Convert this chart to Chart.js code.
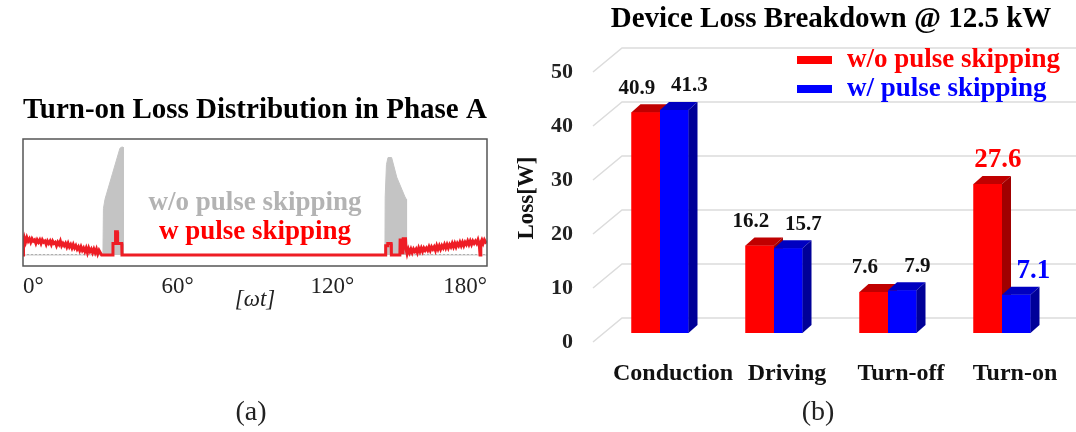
<!DOCTYPE html>
<html>
<head>
<meta charset="utf-8">
<script src="https://cdn.jsdelivr.net/npm/chart.js@4.4.0/dist/chart.umd.min.js"></script>
<style>
  body { margin:0; background:#fff; }
  #marco { position:relative; width:1076px; height:432px; overflow:hidden; font-family:"Liberation Serif", "Times New Roman", serif; }
  canvas { position:absolute; top:0; }
  #graficaA { left:0; }
  #graficaB { left:500px; }
  .pie { position:absolute; top:393px; width:80px; text-align:center; font-size:28px; line-height:36px; color:#222; }
</style>
</head>
<body>
<div id="marco">
  <canvas id="graficaA" width="500" height="432"></canvas>
  <canvas id="graficaB" width="576" height="432"></canvas>
  <div class="pie" style="left:211px">(a)</div>
  <div class="pie" style="left:778px">(b)</div>
</div>
<script>
// ===================== (a) TURN-ON LOSS DISTRIBUTION =====================
const angulosTicks = [0, 60, 120, 180];

// envolvente de la curva sin pulse skipping (gris)
const grisGrados  = [0, 31.0, 31.2, 31.8, 34.7, 37.6, 38.3, 38.8, 38.9, 140.4, 140.5, 141.0, 141.6, 143.0, 145.0, 148.2, 148.7, 148.8, 180];
const grisValores = [0, 0,    0.40, 0.48, 0.70, 0.92, 0.93, 0.93, 0,    0,     0.50,  0.78,  0.84,  0.84,  0.67,  0.50,  0.48,  0,     0];

// curva con pulse skipping (roja)
const rojoGrados = [
  0, 0.2, 0.5, 1, 1.5, 2, 2.5, 3, 3.5, 4, 4.5, 5, 5.5, 6, 6.5, 7, 7.5, 8, 8.5, 9, 9.5, 10,
  10.5, 11, 11.5, 12, 12.5, 13, 13.5, 14, 14.5, 15, 15.5, 16, 16.5, 17, 17.5, 18, 18.5, 19, 19.5, 20,
  20.5, 21, 21.5, 22, 22.5, 23, 23.5, 24, 24.5, 25, 25.5, 26, 26.5, 27, 27.5, 28, 28.5, 29, 29.5, 30, 30.5,
  34.8, 34.9, 35.8, 35.9, 36.6, 36.7, 38.3, 38.4,
  140.6, 140.7, 141.4, 141.5, 142.8, 142.9, 146.2, 146.3, 146.9, 147.0, 147.4, 147.5, 148.4,
  148.6, 149, 149.5, 150, 150.5, 151, 151.5, 152, 152.5, 153, 153.5, 154, 154.5, 155, 155.5, 156, 156.5, 157, 157.5,
  158, 158.5, 159, 159.5, 160, 160.5, 161, 161.5, 162, 162.5, 163, 163.5, 164, 164.5, 165, 165.5, 166, 166.5, 167,
  167.5, 168, 168.5, 169, 169.5, 170, 170.5, 171, 171.5, 172, 172.5, 173, 173.5, 174, 174.5, 175, 175.5, 176, 176.5,
  177, 177.3, 177.6, 178, 178.5, 179, 179.5, 180
];
const rojoValores = [
  0, 0.12, 0.15, 0.11, 0.15, 0.12, 0.14, 0.11, 0.14, 0.12, 0.13, 0.10, 0.13, 0.11, 0.13, 0.10, 0.13, 0.11, 0.12, 0.09, 0.12, 0.10,
  0.12, 0.09, 0.12, 0.10, 0.11, 0.08, 0.11, 0.09, 0.12, 0.08, 0.10, 0.08, 0.10, 0.07, 0.10, 0.07, 0.09, 0.06, 0.09, 0.06,
  0.08, 0.05, 0.07, 0.04, 0.07, 0.04, 0.06, 0.03, 0.06, 0.02, 0.06, 0.03, 0.05, 0.02, 0.05, 0.02, 0.05, 0.01, 0.04, 0.02, 0,
  0, 0.10, 0.10, 0.20, 0.20, 0.10, 0.10, 0,
  0, 0.08, 0.08, 0.10, 0.10, 0, 0, 0.13, 0.13, 0.02, 0.02, 0.14, 0.14,
  0.05, 0.01, 0.05, 0.02, 0.05, 0.02, 0.05, 0.03, 0.05, 0.02, 0.06, 0.03, 0.06, 0.03, 0.06, 0.04, 0.06, 0.04, 0.07,
  0.04, 0.07, 0.05, 0.07, 0.04, 0.08, 0.05, 0.08, 0.05, 0.08, 0.06, 0.09, 0.06, 0.09, 0.06, 0.09, 0.07, 0.10, 0.07,
  0.10, 0.07, 0.10, 0.08, 0.11, 0.08, 0.11, 0.08, 0.11, 0.09, 0.12, 0.09, 0.12, 0.09, 0.12, 0.10, 0.12, 0.10, 0.13,
  0.09, 0, 0.11, 0.13, 0.10, 0.13, 0.11, 0.12
];

// ===================== (b) DEVICE LOSS BREAKDOWN =====================
const categorias = ['Conduction', 'Driving', 'Turn-off', 'Turn-on'];
const perdidasSinSkipping = [40.9, 16.2, 7.6, 27.6];
const perdidasConSkipping = [41.3, 15.7, 7.9, 7.1];
const perdidasTicks = [0, 10, 20, 30, 40, 50];

// ===================== AJUSTES =====================
const SERIF = '"Liberation Serif", "Times New Roman", serif';
Chart.defaults.font.family = SERIF;

const puntos = (xs, ys) => xs.map((x, i) => ({x: x, y: ys[i]}));

// marco gris alrededor del area de la grafica (a)
const bordeArea = {
  id: 'bordeArea',
  afterDatasetsDraw(chart){
    const {ctx, chartArea} = chart;
    ctx.save();
    ctx.strokeStyle = '#555';
    ctx.lineWidth = 1.5;
    ctx.strokeRect(chartArea.left, chartArea.top, chartArea.width, chartArea.height);
    ctx.restore();
  }
};

// rotulos de las curvas dentro de la grafica (a)
const rotulosCurvas = {
  id: 'rotulosCurvas',
  afterDatasetsDraw(chart){
    const {ctx, scales} = chart;
    const xs = scales.x, ys = scales.y;
    ctx.save();
    ctx.font = 'bold 27px ' + SERIF;
    ctx.textAlign = 'center';
    ctx.textBaseline = 'middle';
    ctx.fillStyle = '#b3b3b3';
    ctx.fillText(chart.data.datasets[1].label, xs.getPixelForValue(90), ys.getPixelForValue(0.45));
    ctx.fillStyle = '#ff0000';
    ctx.fillText(chart.data.datasets[0].label, xs.getPixelForValue(90), ys.getPixelForValue(0.2));
    ctx.restore();
  }
};

// rejilla en perspectiva (pared de fondo) para la grafica (b)
const rejilla3D = {
  id: 'rejilla3D',
  beforeDatasetsDraw(chart){
    const {ctx, chartArea} = chart;
    const ys = chart.scales.y;
    ctx.save();
    ctx.strokeStyle = '#dcdcdc';
    ctx.lineWidth = 1.5;
    ys.ticks.forEach(t => {
      const py = ys.getPixelForValue(t.value);
      ctx.beginPath();
      ctx.moveTo(chartArea.left - 10, py + 9);
      ctx.lineTo(chartArea.left + 19, py - 15);
      ctx.lineTo(chart.width, py - 15);
      ctx.stroke();
    });
    ctx.restore();
  }
};

// barras en 3D: cara frontal, superior y lateral, serie por serie
const TONOS_3D = [
  {techo: '#c00000', lado: '#a00000'},
  {techo: '#0000c0', lado: '#000098'}
];
const PROF_X = 9, PROF_Y = 8;
const barras3D = {
  id: 'barras3D',
  afterDatasetsDraw(chart){
    const {ctx} = chart;
    chart.data.datasets.forEach((ds, i) => {
      const tonos = TONOS_3D[i];
      chart.getDatasetMeta(i).data.forEach(barra => {
        const {x, y, base, width} = barra.getProps(['x', 'y', 'base', 'width'], true);
        const izq = x - width/2, der = x + width/2;
        ctx.save();
        ctx.fillStyle = ds.backgroundColor;
        ctx.fillRect(izq, y, width, base - y);
        ctx.fillStyle = tonos.techo;
        ctx.beginPath();
        ctx.moveTo(izq, y);
        ctx.lineTo(izq + PROF_X, y - PROF_Y);
        ctx.lineTo(der + PROF_X, y - PROF_Y);
        ctx.lineTo(der, y);
        ctx.closePath();
        ctx.fill();
        ctx.fillStyle = tonos.lado;
        ctx.beginPath();
        ctx.moveTo(der, y);
        ctx.lineTo(der + PROF_X, y - PROF_Y);
        ctx.lineTo(der + PROF_X, base - PROF_Y);
        ctx.lineTo(der, base);
        ctx.closePath();
        ctx.fill();
        ctx.restore();
      });
    });
  }
};

// valores encima de las barras; Turn-on resaltado con el color de la serie
const CATEGORIA_DESTACADA = 'Turn-on';
const etiquetasValor = {
  id: 'etiquetasValor',
  afterDatasetsDraw(chart){
    const {ctx} = chart;
    ctx.save();
    ctx.textAlign = 'center';
    ctx.textBaseline = 'middle';
    chart.data.datasets.forEach((ds, i) => {
      chart.getDatasetMeta(i).data.forEach((barra, j) => {
        const destacada = chart.data.labels[j] === CATEGORIA_DESTACADA;
        const desplaz = destacada ? (i === 0 ? 10 : 17) : (i === 0 ? -9 : 15);
        ctx.font = destacada ? 'bold 27px ' + SERIF : 'bold 21px ' + SERIF;
        ctx.fillStyle = destacada ? ds.backgroundColor : '#111';
        ctx.fillText(ds.data[j].toFixed(1), barra.x + desplaz, barra.y - 24);
      });
    });
    ctx.restore();
  }
};

// leyenda dibujada dentro del area, arriba a la derecha
const leyenda = {
  id: 'leyenda',
  afterDraw(chart){
    const {ctx, chartArea} = chart;
    ctx.save();
    ctx.font = 'bold 27px ' + SERIF;
    ctx.textAlign = 'left';
    ctx.textBaseline = 'middle';
    chart.data.datasets.forEach((ds, i) => {
      const yc = chartArea.top - 3 + i*29;
      const x0 = chartArea.right - 262;
      ctx.fillStyle = ds.backgroundColor;
      ctx.fillRect(x0, yc - 4, 35, 8);
      ctx.fillText(ds.label, x0 + 50, yc);
    });
    ctx.restore();
  }
};

// ===================== GRAFICA (a) =====================
new Chart(document.getElementById('graficaA'), {
  type: 'line',
  data: {
    datasets: [
      {
        label: 'w pulse skipping',
        data: puntos(rojoGrados, rojoValores),
        borderColor: '#ee1d25',
        borderWidth: 3,
        pointRadius: 0,
        fill: false,
        order: 1
      },
      {
        label: 'w/o pulse skipping',
        data: puntos(grisGrados, grisValores),
        borderColor: '#c4c4c4',
        backgroundColor: '#c4c4c4',
        borderWidth: 1,
        pointRadius: 0,
        fill: 'origin',
        order: 2
      }
    ]
  },
  options: {
    responsive: false,
    animation: false,
    layout: { padding: { left: 23, right: 13, top: 0, bottom: 0 } },
    plugins: {
      legend: { display: false },
      tooltip: { enabled: false },
      title: {
        display: true,
        fullSize: false,
        text: 'Turn-on Loss Distribution in Phase A',
        color: '#000',
        font: { size: 29, weight: 'bold', lineHeight: 1 },
        padding: { top: 96, bottom: 14 }
      }
    },
    scales: {
      x: {
        type: 'linear',
        min: 0,
        max: 180,
        afterBuildTicks: s => { s.ticks = angulosTicks.map(v => ({value: v})); },
        afterFit: s => { s.height = 166; },
        grid: { display: false, drawTicks: false },
        border: { display: false },
        ticks: { align: 'inner', padding: 7, color: '#222', font: { size: 23 }, callback: v => v + '°' },
        title: { display: true, text: '[ωt]', color: '#222', font: { size: 23, style: 'italic' }, padding: { top: 0, bottom: 118 } }
      },
      y: {
        min: -0.095,
        max: 1,
        afterBuildTicks: s => { s.ticks = [{value: 0}]; },
        afterFit: s => { s.width = 0; },
        grid: { color: '#9a9a9a', lineWidth: 1, drawTicks: false },
        border: { display: false, dash: [2, 2] },
        ticks: { padding: 6, color: '#222', font: { size: 24 } }
      }
    }
  },
  plugins: [bordeArea, rotulosCurvas]
});

// ===================== GRAFICA (b) =====================
new Chart(document.getElementById('graficaB'), {
  type: 'bar',
  data: {
    labels: categorias,
    datasets: [
      { label: 'w/o pulse skipping', data: perdidasSinSkipping, backgroundColor: '#ff0000' },
      { label: 'w/ pulse skipping', data: perdidasConSkipping, backgroundColor: '#0000ff' }
    ]
  },
  options: {
    responsive: false,
    animation: false,
    datasets: { bar: { categoryPercentage: 0.5, barPercentage: 1 } },
    layout: { padding: { left: 0, right: 17, top: 0, bottom: 0 } },
    plugins: {
      legend: { display: false },
      tooltip: { enabled: false },
      title: {
        display: true,
        fullSize: false,
        text: 'Device Loss Breakdown @ 12.5 kW',
        color: '#000',
        font: { size: 29, weight: 'bold', lineHeight: 1 },
        padding: { top: 5, bottom: 29 }
      }
    },
    scales: {
      x: {
        afterFit: s => { s.height = 99; },
        grid: { display: false, drawTicks: false },
        border: { display: false },
        ticks: { padding: 26, labelOffset: 13, maxRotation: 0, minRotation: 0, autoSkip: false, color: '#111', font: { size: 24, weight: 'bold' } }
      },
      y: {
        min: 0,
        max: 50,
        afterBuildTicks: s => { s.ticks = perdidasTicks.map(v => ({value: v})); },
        afterFit: s => { s.width = 103; },
        grid: { display: false, drawTicks: false },
        border: { display: false },
        ticks: { padding: 30, labelOffset: 9, color: '#222', font: { size: 22, weight: 'bold' } },
        title: { display: true, text: 'Loss[W]', color: '#111', font: { size: 23, weight: 'bold' }, padding: { top: 13, bottom: 0 } }
      }
    }
  },
  plugins: [rejilla3D, barras3D, etiquetasValor, leyenda]
});
</script>
</body>
</html>
